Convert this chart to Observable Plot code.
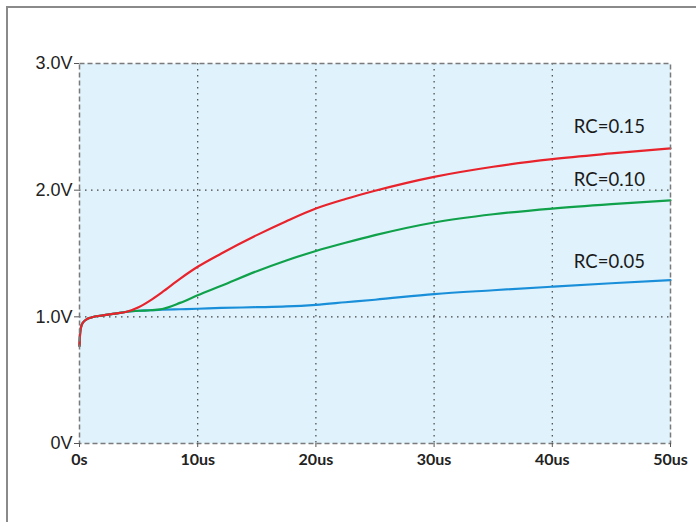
<!DOCTYPE html>
<html>
<head>
<meta charset="utf-8">
<script src="https://cdn.jsdelivr.net/npm/d3@7"></script>
<script src="https://cdn.jsdelivr.net/npm/@observablehq/plot@0.6"></script>
<style>
  html, body { margin: 0; padding: 0; background: #fff; }
  #wrap { position: relative; width: 696px; height: 522px; overflow: hidden; }
  #frame { position: absolute; left: 6px; top: 6px; width: 800px; height: 600px;
           border-left: 2px solid #8a8a8a; border-top: 2px solid #8a8a8a; }
  #chart { position: absolute; left: 0; top: 0; }
</style>
</head>
<body>
<div id="wrap"><div id="frame"></div><div id="chart"></div></div>
<script>
// time in microseconds
const times = [0, 0.05, 0.15, 0.3, 0.6, 1, 2, 3, 4, 5, 6, 7, 8.5, 10, 12, 15, 17.5, 20, 22.5, 25, 30, 35, 40, 45, 50];
const rc015 = [0.77, 0.87, 0.925, 0.955, 0.98, 0.995, 1.012, 1.025, 1.04, 1.075, 1.13, 1.195, 1.30, 1.395, 1.50, 1.645, 1.755, 1.855, 1.93, 1.995, 2.105, 2.185, 2.245, 2.29, 2.33];
const rc010 = [0.77, 0.87, 0.925, 0.955, 0.98, 0.995, 1.012, 1.025, 1.04, 1.048, 1.052, 1.062, 1.11, 1.17, 1.245, 1.36, 1.445, 1.52, 1.585, 1.645, 1.745, 1.81, 1.855, 1.89, 1.92];
const rc005 = [0.77, 0.87, 0.925, 0.955, 0.98, 0.995, 1.012, 1.025, 1.04, 1.048, 1.052, 1.056, 1.06, 1.064, 1.07, 1.076, 1.082, 1.095, 1.115, 1.135, 1.18, 1.21, 1.238, 1.265, 1.29];
const seriesNames = ["RC=0.15", "RC=0.10", "RC=0.05"];
const seriesColors = ["#e8232b", "#10a14b", "#1a8fd9"];
const xTicks = [0, 10, 20, 30, 40, 50];
const xTickLabels = ["0s", "10us", "20us", "30us", "40us", "50us"];
const yTicks = [0, 1, 2, 3];
const yTickLabels = ["0V", "1.0V", "2.0V", "3.0V"];
const labelTime = 45;

const seriesValues = [rc015, rc010, rc005];
const labelDy = [-26, -24, -21];

const data = [];
seriesValues.forEach((vals, i) => {
  vals.forEach((v, j) => data.push({t: times[j], v, s: seriesNames[i]}));
});

const marks = [
  Plot.frame({fill: "#e0f2fc", stroke: null}),
  Plot.gridX(xTicks.slice(1, -1), {stroke: "#444", strokeOpacity: 1, strokeDasharray: "1.5,4.5", strokeWidth: 1.2}),
  Plot.gridY(yTicks.slice(1, -1), {stroke: "#444", strokeOpacity: 1, strokeDasharray: "1.5,4.5", strokeWidth: 1.2}),
];
// draw lowest series first so the red curve sits on top of the shared start
[2, 1, 0].forEach(i => {
  const name = seriesNames[i];
  marks.push(Plot.line(data.filter(d => d.s === name), {
    x: "t", y: "v", stroke: seriesColors[i], strokeWidth: 2.2, curve: "monotone-x"
  }));
});
seriesNames.forEach((name, i) => {
  const p = data.find(d => d.s === name && d.t === labelTime);
  marks.push(Plot.text([p], {
    x: "t", y: "v", text: () => name, dy: labelDy[i], dx: -2,
    fontFamily: "Lato", fontSize: 18.5, fill: "#1a1a1a"
  }));
});
marks.push(
  Plot.frame({stroke: "#7a7a7a", strokeWidth: 1.5, strokeDasharray: "5,3"}),
  Plot.axisX(xTicks, {
    tickFormat: (d, i) => xTickLabels[i], tickSize: 4, tickPadding: 6,
    fontFamily: "Lato", fontWeight: 700, fontSize: 16, fill: "#222", stroke: "#555"
  }),
  Plot.axisY(yTicks, {
    tickFormat: (d, i) => yTickLabels[i], tickSize: 5, tickPadding: 2,
    fontFamily: "Liberation Sans", fontSize: 18, fill: "#222", stroke: "#555"
  })
);

const chart = Plot.plot({
  width: 696,
  height: 522,
  marginLeft: 79,
  marginRight: 26,
  marginTop: 63,
  marginBottom: 79,
  style: {background: "transparent", overflow: "visible"},
  x: {domain: [0, 50], label: null},
  y: {domain: [0, 3], label: null},
  marks
});
document.getElementById("chart").appendChild(chart);
</script>
</body>
</html>
